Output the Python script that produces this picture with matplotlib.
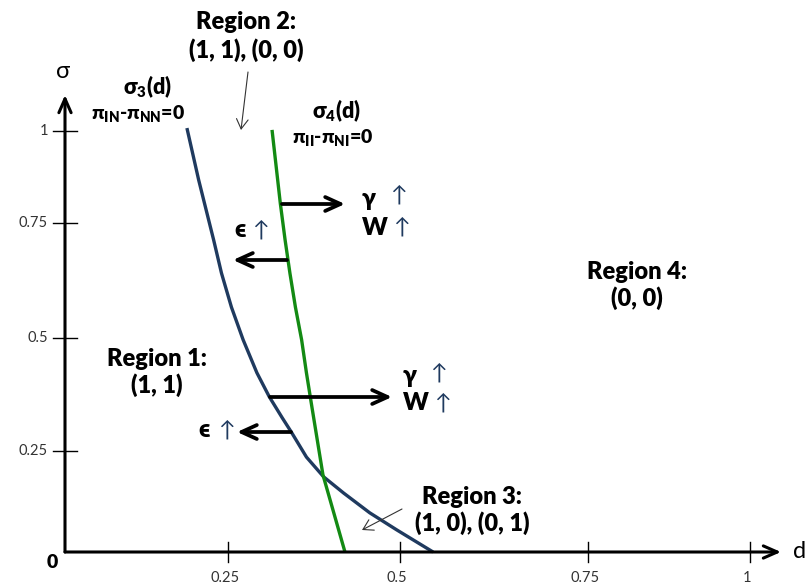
import matplotlib
matplotlib.use("Agg")
import numpy as np
import matplotlib.pyplot as plt
from matplotlib.transforms import offset_copy

plt.rcParams['font.family'] = ['Lato', 'DejaVu Sans']
plt.rcParams['mathtext.default'] = 'regular'

# ---- data (d, sigma) ----
sigma3_d = [0.187, 0.205, 0.228, 0.240, 0.255, 0.272, 0.292, 0.310, 0.329, 0.342,
            0.364, 0.389, 0.418, 0.456, 0.495, 0.544]
sigma3_s = [1.008, 0.867, 0.713, 0.641, 0.567, 0.496, 0.423, 0.370, 0.323, 0.292,
            0.235, 0.186, 0.146, 0.097, 0.055, 0.0]
sigma4_d = [0.314, 0.326, 0.333, 0.340, 0.348, 0.357, 0.364, 0.372, 0.388, 0.420]
sigma4_s = [1.003, 0.804, 0.713, 0.641, 0.567, 0.496, 0.423, 0.347, 0.191, 0.0]
x_ticks = [0.25, 0.5, 0.75, 1]
x_tick_labels = ['0.25', '0.5', '0.75', '1']
y_ticks = [0.25, 0.5, 0.75, 1]
y_tick_labels = ['0.25', '0.5', '0.75', '1']

# hand-drawn axis spacing of the original (tick value -> pixel offset)
X_GRID = [0, 0.25, 0.5, 0.75, 1]
X_PIX = [65, 228, 400, 588, 750]
Y_GRID = [0, 0.25, 0.5, 0.75, 1]
Y_PIX = [0, 101, 214, 329, 421]

BLUE = '#1f3a5f'
GREEN = '#138a13'
WEIGHT = 'heavy'
W, H = 809, 586


def piecewise(xs, ps):
    xs = np.asarray(xs, float)
    ps = np.asarray(ps, float)

    def fwd(v):
        v = np.asarray(v, float)
        out = np.interp(v, xs, ps)
        lo = v < xs[0]
        hi = v > xs[-1]
        out = np.where(lo, ps[0] + (v - xs[0]) * (ps[1] - ps[0]) / (xs[1] - xs[0]), out)
        out = np.where(hi, ps[-1] + (v - xs[-1]) * (ps[-1] - ps[-2]) / (xs[-1] - xs[-2]), out)
        return out

    def inv(p):
        p = np.asarray(p, float)
        out = np.interp(p, ps, xs)
        lo = p < ps[0]
        hi = p > ps[-1]
        out = np.where(lo, xs[0] + (p - ps[0]) * (xs[1] - xs[0]) / (ps[1] - ps[0]), out)
        out = np.where(hi, xs[-1] + (p - ps[-1]) * (xs[-1] - xs[-2]) / (ps[-1] - ps[-2]), out)
        return out
    return fwd, inv


fx, ix = piecewise(X_GRID, X_PIX)
fy, iy = piecewise(Y_GRID, Y_PIX)

fig = plt.figure(figsize=(W / 100, H / 100), dpi=100)
ax = fig.add_axes([0, 0, 1, 1])
ax.set_xscale('function', functions=(fx, ix))
ax.set_yscale('function', functions=(fy, iy))
ax.set_xlim(float(ix(0)), float(ix(W)))
ax.set_ylim(float(iy(552 - H)), float(iy(552)))
ax.axis('off')


def P(xp, yp):
    """pixel position of the original -> axes fraction"""
    return (xp / W, 1 - yp / H)


def arrow(p_from, p_to, lw, hl=0.55, hw=0.25, ms=20, color='black'):
    ax.annotate('', xy=P(*p_to), xytext=P(*p_from), xycoords='axes fraction',
                textcoords='axes fraction',
                arrowprops=dict(arrowstyle=f'->, head_length={hl}, head_width={hw}',
                                lw=lw, color=color, mutation_scale=ms,
                                shrinkA=0, shrinkB=0))


# axes with arrows
arrow((65, 552), (781, 552), 2.2, hl=0.5, hw=0.22)
arrow((65, 552), (65, 95), 2.2, hl=0.5, hw=0.22)

# ticks
xt_off = offset_copy(ax.transData, fig=fig, x=-3, y=0, units='dots')
for xt, lab in zip(x_ticks, x_tick_labels):
    ax.plot([xt, xt], [float(iy(10)), float(iy(-10))], color='black', lw=1)
    ax.text(xt, float(iy(-26)), lab, ha='center', va='center', fontsize=10.5,
            color='#333333', transform=xt_off)
for yt, lab in zip(y_ticks, y_tick_labels):
    ax.plot([float(ix(53)), float(ix(77))], [yt, yt], color='black', lw=1)
    ax.text(float(ix(48)), yt, lab, ha='right', va='center', fontsize=10.5, color='#333333')

# curves
ax.plot(sigma3_d, sigma3_s, color=BLUE, lw=2.4, solid_capstyle='butt', solid_joinstyle='round')
ax.plot(sigma4_d, sigma4_s, color=GREEN, lw=2.4, solid_capstyle='butt', solid_joinstyle='round')

# thick arrows
arrow((282, 204), (345, 204), 2.7)
arrow((287, 260), (233, 260), 2.7)
arrow((270, 397), (392, 397), 2.7)
arrow((291, 432), (237, 432), 2.7)

# thin pointer arrows
arrow((248, 72), (241, 130), 0.8, hl=0.5, hw=0.3, ms=14, color='#333333')
arrow((402, 509), (362, 530), 0.8, hl=0.5, hw=0.3, ms=14, color='#333333')


def btext(xp, yp, s, size=17, ha='center', weight=WEIGHT, color='black'):
    x, y = P(xp, yp)
    ax.text(x, y, s, ha=ha, va='center', fontsize=size, fontweight=weight, color=color,
            transform=ax.transAxes)


btext(52, 562, '0', size=14)
btext(63, 72, 'σ', size=17, weight='normal')
btext(800, 552, 'd', size=17, weight='normal')

# region labels
btext(246, 22, 'Region 2:')
btext(246, 50, '(1, 1), (0, 0)')
btext(157, 359, 'Region 1:')
btext(157, 385, '(1, 1)')
btext(472, 497, 'Region 3:')
btext(472, 523, '(1, 0), (0, 1)')
btext(637, 272, 'Region 4:')
btext(637, 298, '(0, 0)')

# curve labels
btext(147, 87, 'σ$_3$(d)', size=15.5)
btext(138, 113, 'π$_{IN}$-π$_{NN}$=0', size=14)
btext(336, 111, 'σ$_4$(d)', size=15.5)
btext(333, 137, 'π$_{II}$-π$_{NI}$=0', size=14)

# gamma / W / epsilon
ARR = '#1f3a5f'
btext(362, 199, 'γ', size=17.5, ha='left')
btext(362, 228, 'W', size=17.5, ha='left')
btext(398, 196, '↑', size=16, weight='normal', color=ARR)
btext(401, 228, '↑', size=16, weight='normal', color=ARR)
btext(240, 230, 'ϵ', size=17.5)
btext(260, 231, '↑', size=16, weight='normal', color=ARR)

btext(403, 376, 'γ', size=17.5, ha='left')
btext(403, 403, 'W', size=17.5, ha='left')
btext(438, 374, '↑', size=16, weight='normal', color=ARR)
btext(442, 404, '↑', size=16, weight='normal', color=ARR)
btext(204, 430, 'ϵ', size=17.5)
btext(226, 431, '↑', size=16, weight='normal', color=ARR)

fig.savefig('out.png', dpi=100)
